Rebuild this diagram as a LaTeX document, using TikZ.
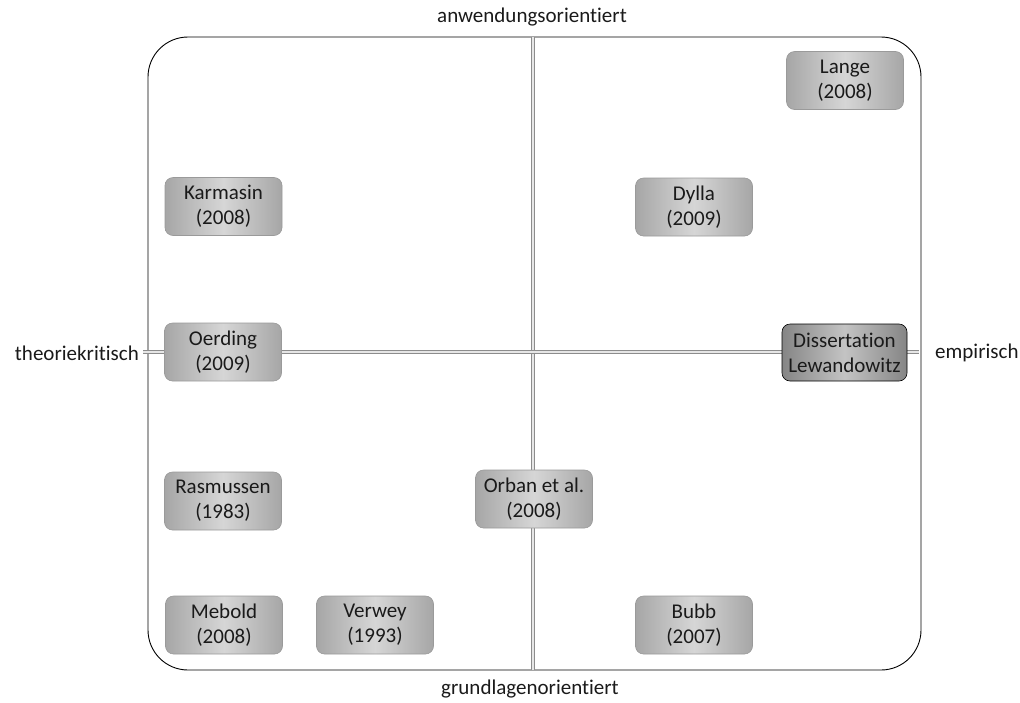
\documentclass[tikz,border=0pt]{standalone}
\usepackage{fontspec}
\setmainfont[Ligatures=NoCommon]{Carlito}
\definecolor{boxedge}{HTML}{A6A6A6}
\definecolor{boxmid}{HTML}{D6D6D6}
\definecolor{darkedge}{HTML}{858585}
\definecolor{darkmid}{HTML}{C4C4C4}
\definecolor{boxline}{HTML}{9A9A9A}
\definecolor{axisline}{HTML}{8C8C8C}
\definecolor{axisfill}{HTML}{E6E6E6}
\definecolor{txt}{HTML}{1A1A1A}
\tikzset{
  lit/.style={draw=boxline, line width=0.6pt, rounded corners=8pt,
    left color=boxedge, right color=boxedge, middle color=boxmid,
    minimum width=117pt, minimum height=58pt, align=center, text=txt,
    font=\fontsize{21}{25}\selectfont, inner sep=0pt},
  diss/.style={lit, draw=black, left color=darkedge, right color=darkedge, middle color=darkmid, minimum width=125pt, minimum height=57pt},
  axis/.style={draw=axisline, double=axisfill, line width=0.7pt, double distance=2pt},
  lbl/.style={font=\fontsize{21}{25}\selectfont, inner sep=0pt, text=txt}
}
\begin{document}
\begin{tikzpicture}[x=1pt,y=-1pt]
\useasboundingbox (0,0) rectangle (1020,702);
\draw[line width=0.9pt, rounded corners=40pt] (148,37) rectangle (921,670);
\coordinate (vt) at (533,37);
\coordinate (vb) at (533,670);
\coordinate (hl) at (143,352);
\coordinate (hr) at (919,352);
\draw[axis] (vt) -- (vb);
\draw[axis] (hl) -- (hr);
\node[lbl] (top) at (532,17) {anwendungsorientiert};
\node[lbl] (bot) at (530,689) {grundlagenorientiert};
\node[lbl, anchor=east] (left) at (139,353) {theoriekritisch};
\node[lbl, anchor=west] (right) at (935,353) {empirisch};
\node[lit] (lange) at (845,80.5) {Lange\\(2008)};
\node[lit] (karmasin) at (223.5,206.5) {Karmasin\\(2008)};
\node[lit] (dylla) at (694,207) {Dylla\\(2009)};
\node[lit] (oerding) at (223,352) {Oerding\\(2009)};
\node[diss] (diss) at (844.5,352.5) {Dissertation\\Lewandowitz};
\node[lit] (rasmussen) at (223,501) {Rasmussen\\(1983)};
\node[lit] (orban) at (534,499) {Orban et al.\\(2008)};
\node[lit] (mebold) at (224,625) {Mebold\\(2008)};
\node[lit] (verwey) at (375,625) {Verwey\\(1993)};
\node[lit] (bubb) at (694,625) {Bubb\\(2007)};
\end{tikzpicture}
\end{document}
